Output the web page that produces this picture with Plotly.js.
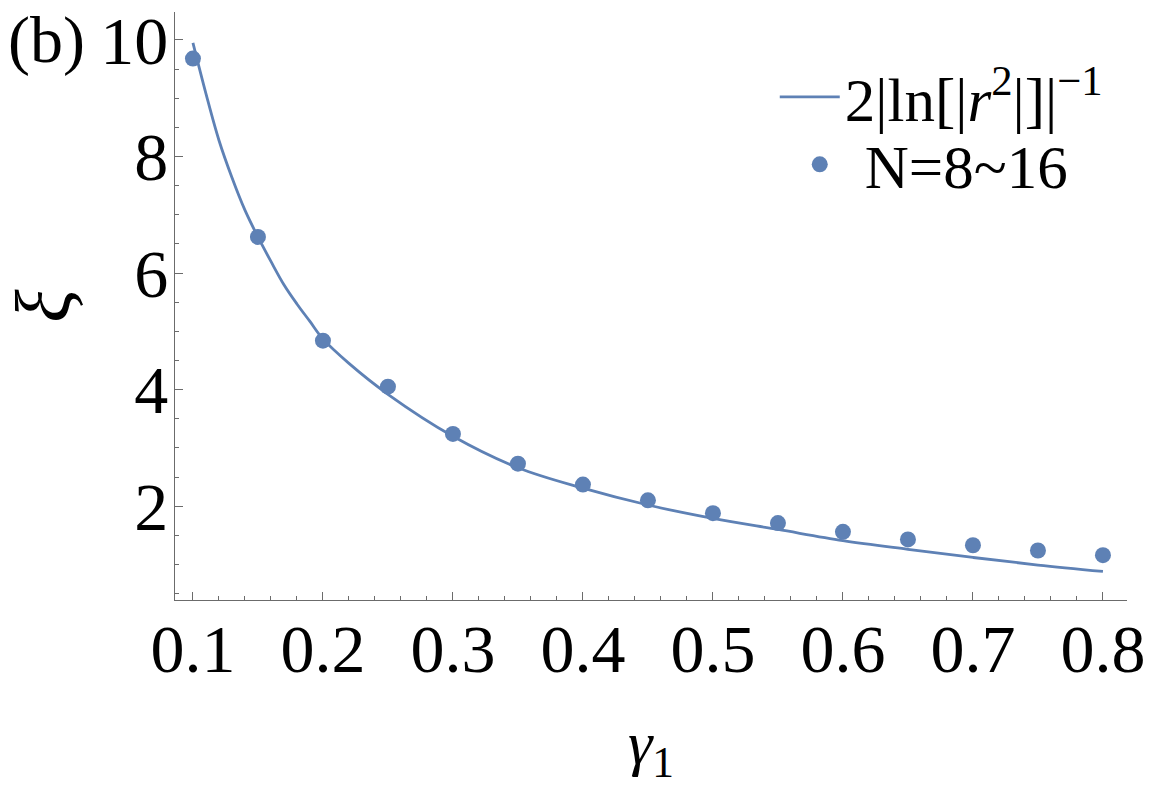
<!DOCTYPE html>
<html>
<head>
<meta charset="utf-8">
<script src="https://cdn.plot.ly/plotly-3.0.1.min.js"></script>
<style>
  html, body { margin: 0; padding: 0; background: #fff; }
  #graph { width: 1152px; height: 786px; }
</style>
</head>
<body>
<div id="graph"></div>
<script>
// courbe 2|ln|r^2||^-1
var gammaCourbe = [0.10, 0.11, 0.12, 0.13, 0.14, 0.15, 0.16, 0.17, 0.18, 0.19, 0.20, 0.22,
                   0.25, 0.30, 0.35, 0.40, 0.45, 0.50, 0.55, 0.60, 0.65, 0.70, 0.75, 0.80];
var xiCourbe = [9.95, 9.08, 8.28, 7.64, 7.08, 6.62, 6.20, 5.80, 5.47, 5.17, 4.87, 4.45,
                3.92, 3.20, 2.66, 2.31, 2.02, 1.79, 1.60, 1.41, 1.26, 1.12, 0.99, 0.88];

// points numériques N=8~16
var gammaPoints = [0.10, 0.15, 0.20, 0.25, 0.30, 0.35, 0.40, 0.45, 0.50, 0.55, 0.60, 0.65, 0.70, 0.75, 0.80];
var xiPoints = [9.68, 6.62, 4.84, 4.05, 3.24, 2.73, 2.37, 2.10, 1.88, 1.71, 1.56, 1.43, 1.33, 1.24, 1.16];

var nomCourbe = '2|ln[|<i>r</i><sup>2</sup>|]|<sup>\u22121</sup>';
var nomPoints = 'N=8~16';

var bleu = '#5E81B5';
var gris = '#6b6b6b';
var police = 'Liberation Serif, Times New Roman, serif';

var data = [{
	x: gammaCourbe,
	y: xiCourbe,
	mode: 'lines',
	name: nomCourbe,
	legend: 'legend',
	line: {shape: 'spline', color: bleu, width: 2.8}
}, {
	x: gammaPoints,
	y: xiPoints,
	mode: 'markers',
	name: nomPoints,
	legend: 'legend2',
	marker: {color: bleu, size: 16}
}];

var layout = {
	width: 1152,
	height: 786,
	margin: {l: 175, r: 25, t: 12, b: 186},
	paper_bgcolor: '#fff',
	plot_bgcolor: '#fff',
	font: {family: police, color: '#000', size: 68},
	showlegend: true,
	legend: {
		x: 0.63, y: 0.934, xanchor: 'left', yanchor: 'top',
		bgcolor: 'rgba(0,0,0,0)',
		font: {family: police, size: 61, color: '#000'},
		itemwidth: 60
	},
	legend2: {
		x: 0.63, y: 0.8195, xanchor: 'left', yanchor: 'top',
		bgcolor: 'rgba(0,0,0,0)',
		font: {family: police, size: 61, color: '#000'},
		itemwidth: 80
	},
	xaxis: {
		range: [0.0862, 0.8185],
		showgrid: false, zeroline: false,
		showline: true, linecolor: gris, linewidth: 1.3, mirror: false,
		ticks: 'inside', ticklen: 8, tickcolor: gris, tickwidth: 1.2,
		tick0: 0, dtick: 0.1, tickformat: '.1f',
		ticklabelstandoff: -11,
		tickfont: {family: police, size: 68, color: '#000'},
		minor: {dtick: 0.02, ticks: 'inside', ticklen: 4, tickcolor: gris, tickwidth: 1, showgrid: false},
		title: {text: '<i>\u03B3</i><sub>1</sub>', font: {family: police, size: 62, color: '#000'}, standoff: 37}
	},
	yaxis: {
		range: [0.39, 10.48],
		showgrid: false, zeroline: false,
		showline: true, linecolor: gris, linewidth: 1.3, mirror: false,
		ticks: 'inside', ticklen: 8, tickcolor: gris, tickwidth: 1.2,
		tick0: 0, dtick: 2,
		ticklabelstandoff: -8,
		tickfont: {family: police, size: 68, color: '#000'},
		minor: {dtick: 0.5, ticks: 'inside', ticklen: 4, tickcolor: gris, tickwidth: 1, showgrid: false},
		title: {text: '<i>\u03BE</i>', font: {family: police, size: 78, color: '#000'}, standoff: 26}
	},
	annotations: [{
		text: '(b)',
		xref: 'paper', yref: 'paper',
		x: -0.178, y: 0.952, xanchor: 'left', yanchor: 'middle',
		showarrow: false,
		font: {family: police, size: 66, color: '#000'}
	}]
};

Plotly.newPlot('graph', data, layout, {displayModeBar: false, displaylogo: false});
</script>
</body>
</html>
